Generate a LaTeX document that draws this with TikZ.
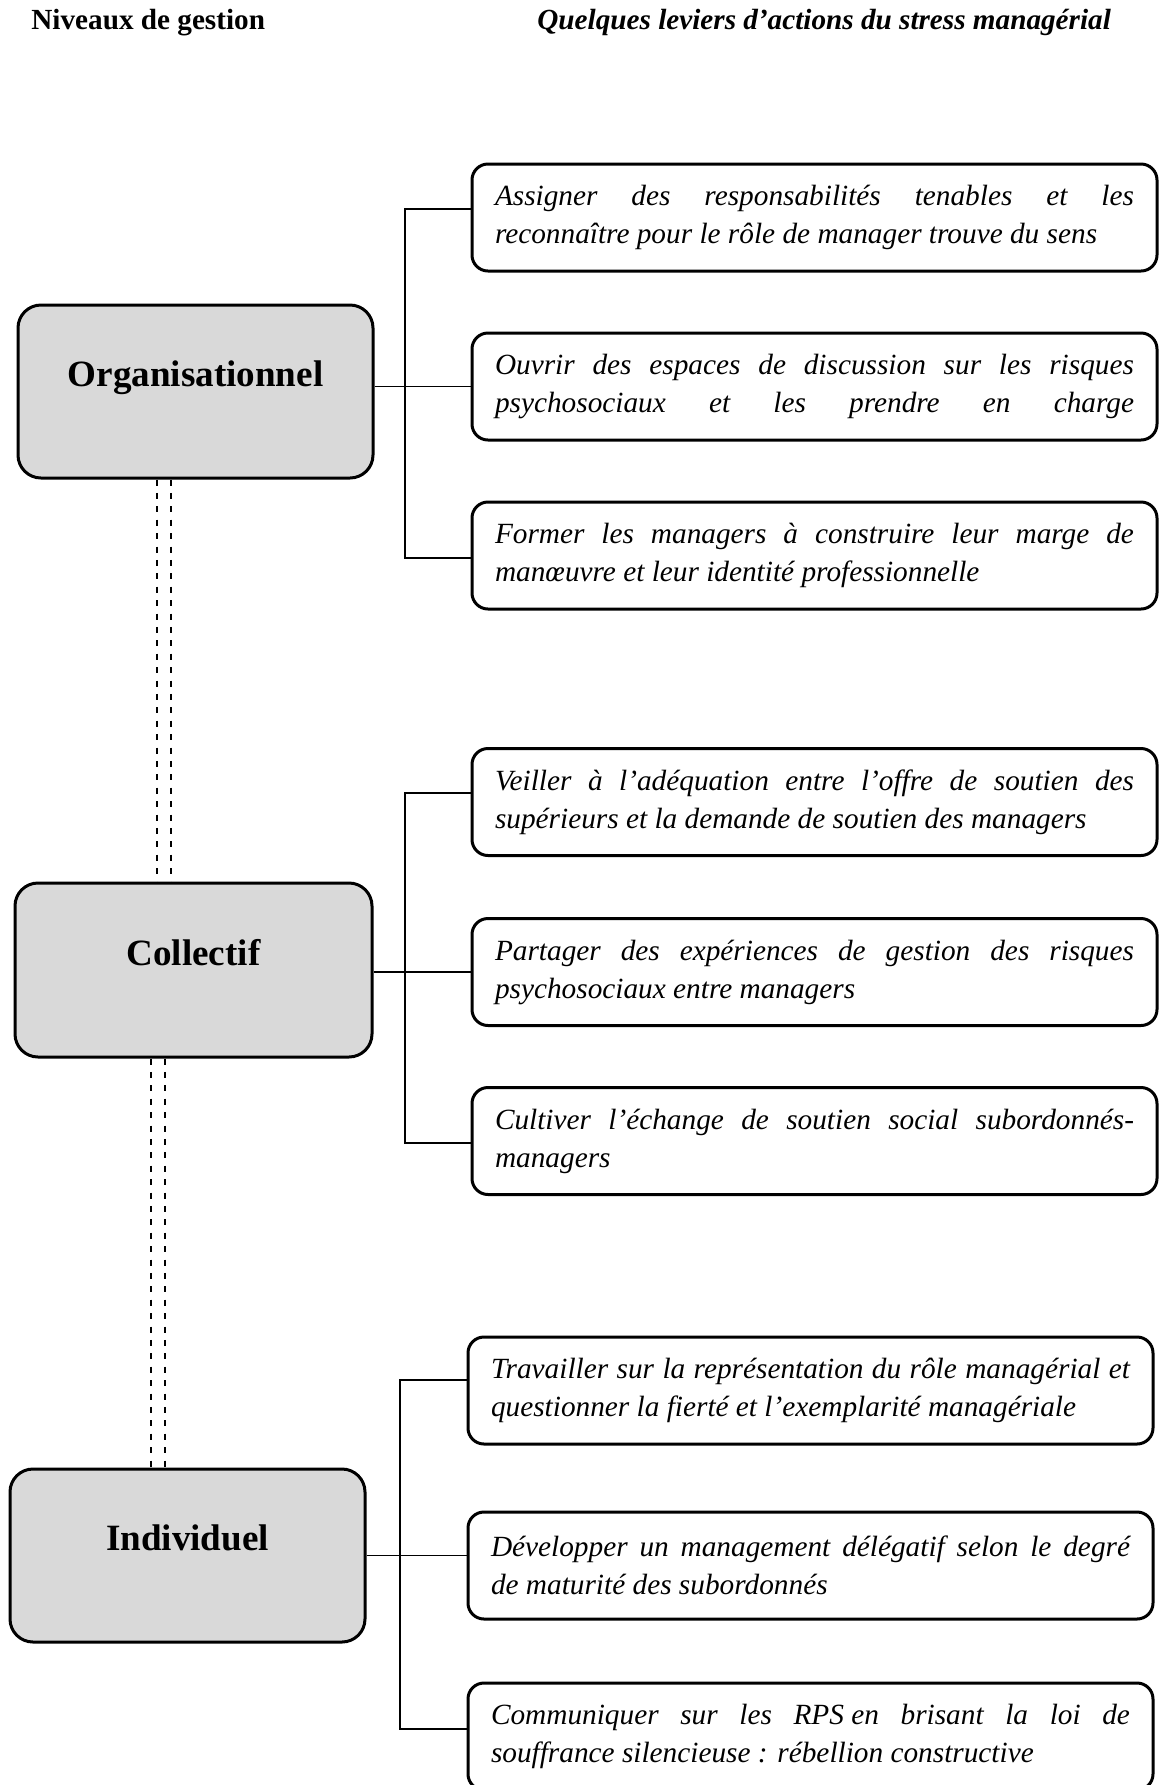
\documentclass[tikz,border=0pt]{standalone}
\usepackage{fontspec}
\setmainfont{Liberation Serif}
\usetikzlibrary{calc,backgrounds}
\definecolor{levelgray}{HTML}{D9D9D9}
\begin{document}
\begin{tikzpicture}[x=0.5pt,y=-0.5pt,
  level/.style={draw=black, line width=1.5pt, fill=levelgray, rounded corners=11.5pt,
    minimum width=177.5pt, minimum height=86.5pt, inner sep=0pt,
    font=\fontsize{18.55pt}{22pt}\selectfont\bfseries,
    text height=5pt, text depth=10pt},
  lever/.style={draw=black, line width=1.5pt, fill=white, rounded corners=8pt,
    minimum width=342.5pt, minimum height=53.5pt, inner xsep=11.5pt, inner ysep=0pt,
    text width=319.5pt, align=justify,
    font=\fontsize{14.65pt}{19pt}\selectfont\itshape},
  link/.style={line width=0.8pt},
  dbl/.style={line width=1pt, dash pattern=on 3pt off 3.7pt},
  head/.style={anchor=base west, inner sep=0pt,
    font=\fontsize{14.6pt}{18pt}\selectfont\bfseries}]

\useasboundingbox (0,0) rectangle (1160,1785);

% column headings
\node[head] (hleft) at (31,29) {Niveaux de gestion};
\node[head, font=\fontsize{14.6pt}{18pt}\selectfont\bfseries\itshape] (hright) at (537,29)
  {Quelques leviers d’actions du stress managérial};

% management levels
\node[level] (org) at (195.5,391.5) {Organisationnel};
\node[level, minimum width=178.5pt, minimum height=87pt] (col) at (193.5,970) {Collectif};
\node[level] (ind) at (187.5,1555.5) {Individuel};

% levers, organisational level
\node[lever] (a1) at (814.5,217.5)
  {Assigner des responsabilités tenables et les\linebreak
   reconnaître pour le rôle de manager trouve du sens};
\node[lever] (a2) at (814.5,386.5)
  {Ouvrir des espaces de discussion sur les risques\linebreak
   \makebox[\hsize][s]{psychosociaux et les prendre en charge}};
\node[lever] (a3) at (814.5,555.5)
  {Former les managers à construire leur marge de\linebreak
   manœuvre et leur identité professionnelle};

% levers, collective level
\node[lever] (b1) at (814.5,802)
  {Veiller à l’adéquation entre l’offre de soutien des\linebreak
   supérieurs et la demande de soutien des managers};
\node[lever] (b2) at (814.5,972)
  {Partager des expériences de gestion des risques\linebreak
   psychosociaux entre managers};
\node[lever] (b3) at (814.5,1141)
  {Cultiver l’échange de soutien social subordonnés-\linebreak
   managers};

% levers, individual level
\node[lever] (c1) at (810.5,1390.5)
  {Travailler sur la représentation du rôle managérial et\linebreak
   questionner la fierté et l’exemplarité managériale};
\node[lever] (c2) at (810.5,1565.5)
  {Développer un management délégatif selon le degré\linebreak
   de maturité des subordonnés};
\node[lever] (c3) at (810.5,1736.5)
  {Communiquer sur les RPS\hspace{0.25em}en brisant la loi de\linebreak
   souffrance silencieuse~: rébellion constructive};

% bracket spines
\coordinate (sa1) at (405,209);  \coordinate (sa3) at (405,558);
\coordinate (sb1) at (405,793);  \coordinate (sb3) at (405,1143);
\coordinate (sc1) at (400,1380); \coordinate (sc3) at (400,1729);
% dashed double links between levels
\coordinate (d1) at (157,0); \coordinate (d2) at (171,0);
\coordinate (d3) at (151,0); \coordinate (d4) at (165,0);

\begin{scope}[on background layer]
  \draw[link] (org.east |- a2.west) -- (a2.west);
  \draw[link] (sa1 -| a1.west) -- (sa1) -- (sa3) -- (sa3 -| a3.west);

  \draw[link] (col.east |- b2.west) -- (b2.west);
  \draw[link] (sb1 -| b1.west) -- (sb1) -- (sb3) -- (sb3 -| b3.west);

  \draw[link] (ind.east) -- (ind.east -| c2.west);
  \draw[link] (sc1 -| c1.west) -- (sc1) -- (sc3) -- (sc3 -| c3.west);

  \draw[dbl] (d1 |- org.south) -- (d1 |- col.north);
  \draw[dbl] (d2 |- org.south) -- (d2 |- col.north);
  \draw[dbl] (d3 |- col.south) -- (d3 |- ind.north);
  \draw[dbl] (d4 |- col.south) -- (d4 |- ind.north);
\end{scope}
\end{tikzpicture}
\end{document}
